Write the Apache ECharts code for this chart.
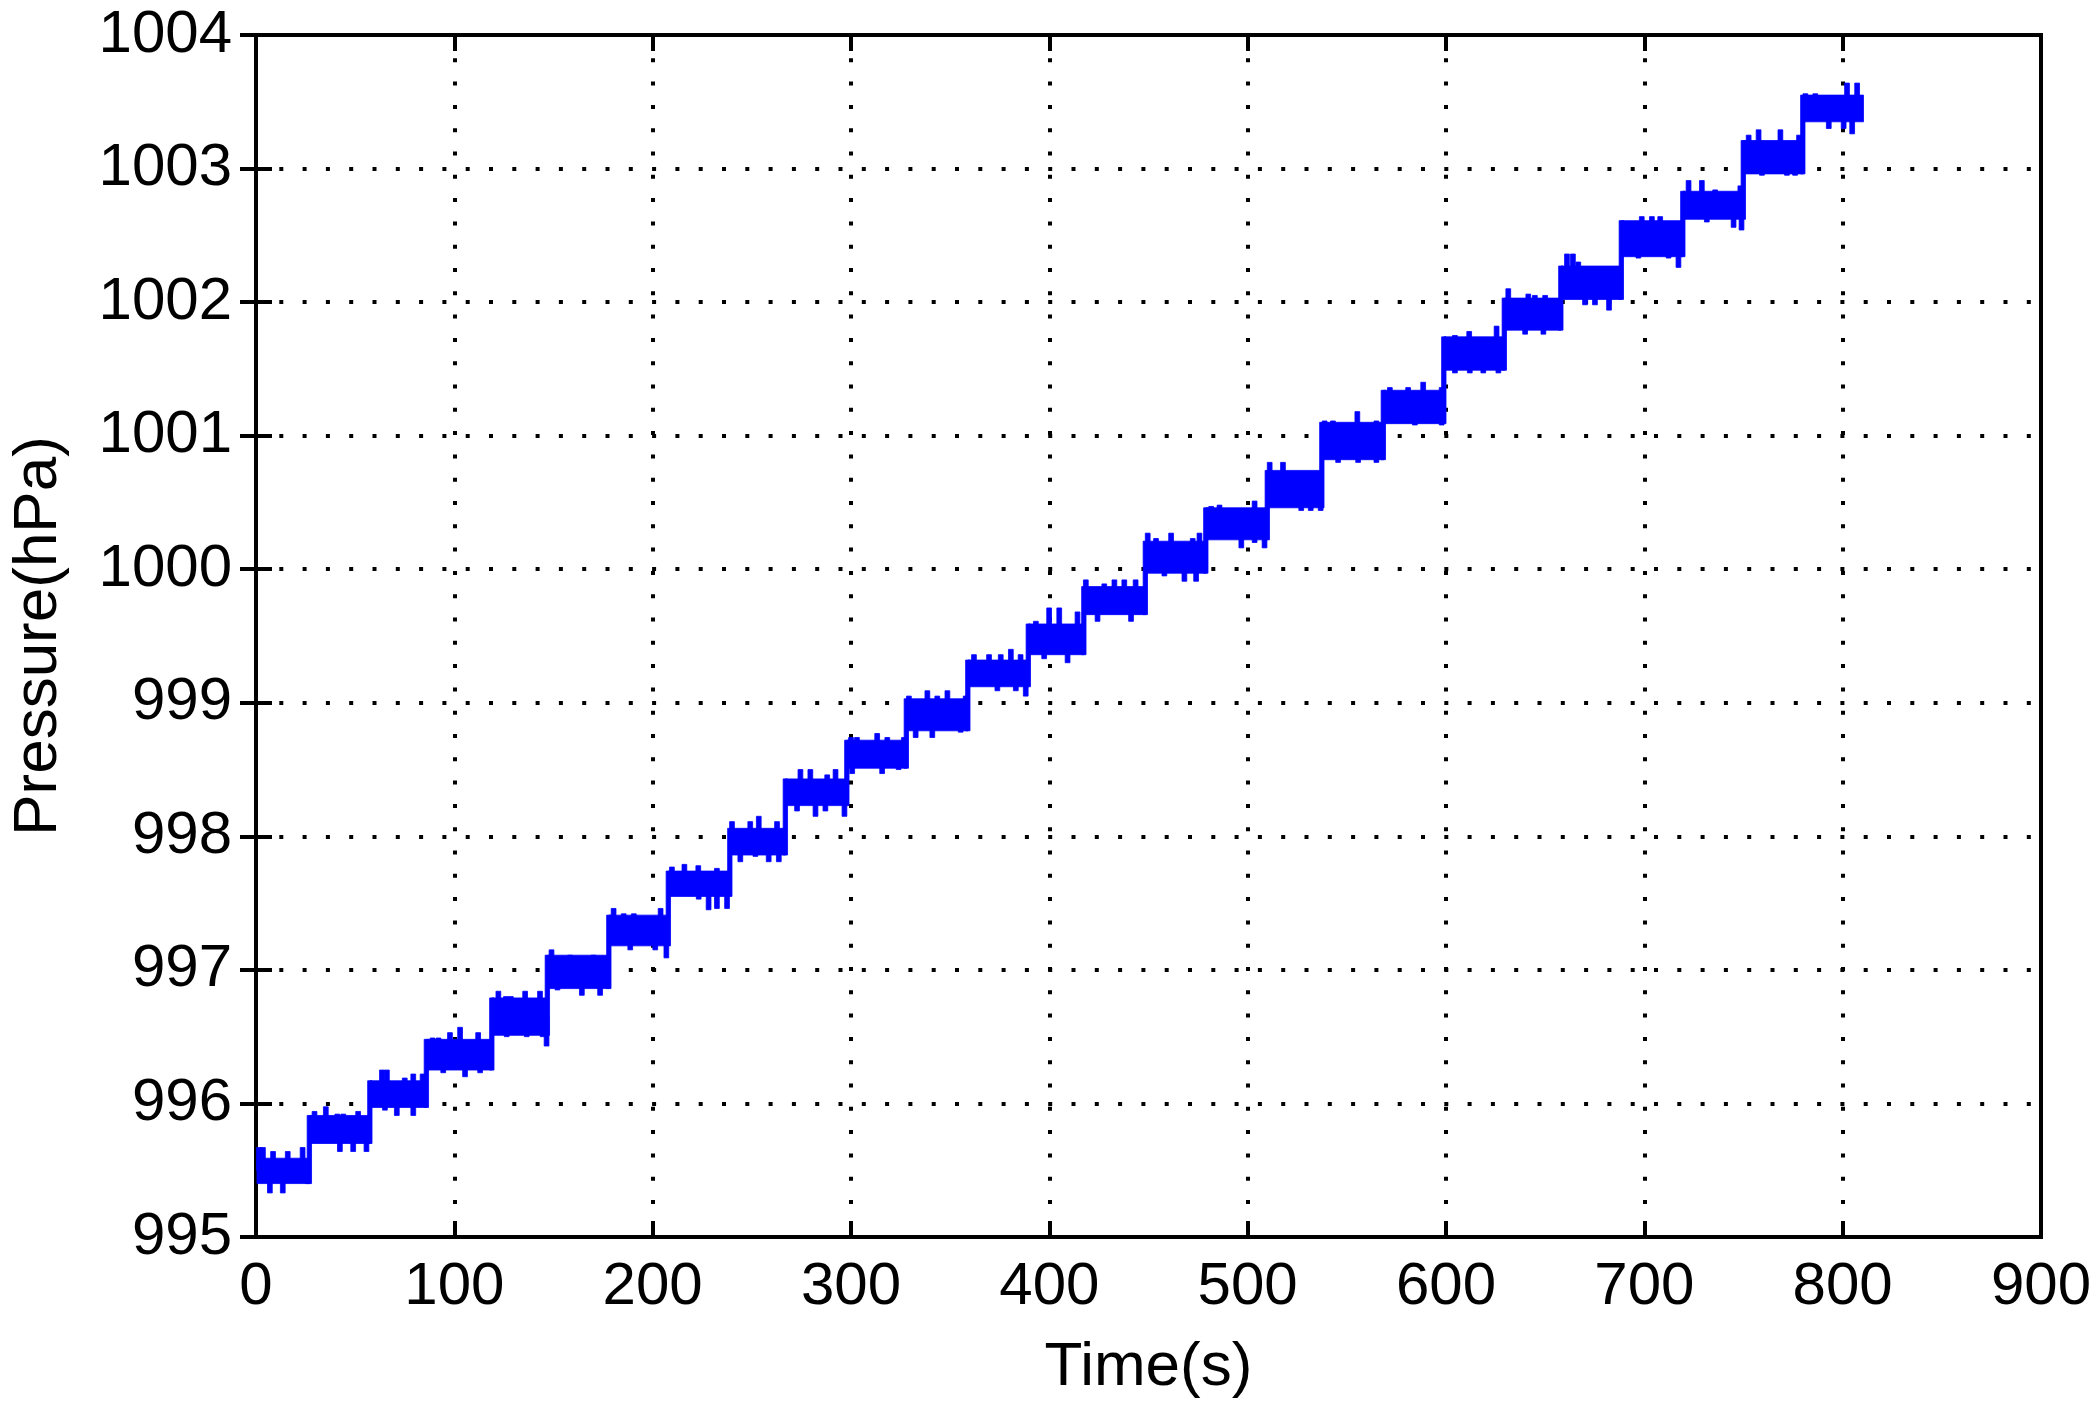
<!DOCTYPE html>
<html>
<head>
<meta charset="utf-8">
<script src="https://cdn.jsdelivr.net/npm/echarts@6/dist/echarts.min.js"></script>
<style>
html,body{margin:0;padding:0;background:#fff;}
#chart{width:2097px;height:1414px;}
</style>
</head>
<body>
<div id="chart"></div>
<script>
// ---- data ----
const xTicks = [0, 100, 200, 300, 400, 500, 600, 700, 800, 900];
const yTicks = [995, 996, 997, 998, 999, 1000, 1001, 1002, 1003, 1004];

// start time (s) of each pressure step, and end of the record
const stepStart = [0.5, 27, 57.5, 86, 119, 147, 178, 208, 239, 267, 298, 328, 359, 389.5, 417.5,
                   448.5, 479, 510, 537.5, 568.5, 599, 629.5, 658, 688.5, 719.5, 750, 780];
const endTime = 810.5;

// upper / lower edge of the dense noise band of each step (hPa)
const coreHigh = [995.59, 995.91, 996.17, 996.48, 996.79, 997.11, 997.41, 997.74, 998.06, 998.43,
                  998.72, 999.03, 999.32, 999.59, 999.87, 1000.21, 1000.46, 1000.74, 1001.10, 1001.34,
                  1001.74, 1002.03, 1002.27, 1002.61, 1002.83, 1003.21, 1003.55];
const coreLow  = [995.40, 995.70, 995.97, 996.25, 996.51, 996.86, 997.18, 997.55, 997.86, 998.23,
                  998.51, 998.79, 999.12, 999.36, 999.66, 999.97, 1000.22, 1000.46, 1000.82, 1001.09,
                  1001.49, 1001.79, 1002.02, 1002.34, 1002.62, 1002.96, 1003.35];

// upward noise spikes [time s, pressure hPa]
const spikeHigh = [
  [1.5,995.67],[3.5,995.67],[8.6,995.64],[16,995.64],[23.5,995.67],
  [29.5,995.94],[35.2,995.975],[41,995.92],[44,995.92],[51.5,995.94],
  [63.5,996.25],[66,996.25],[75,996.19],[79.3,996.22],[84,996.22],
  [89,996.49],[92,996.49],[97.8,996.53],[102.9,996.57],[112,996.53],
  [122.2,996.84],[126,996.80],[128.5,996.80],[135.7,996.84],[143.2,996.84],
  [149,997.15],[158.4,997.11],[170.2,997.11],
  [180.3,997.46],[185.4,997.42],[190.5,997.42],[204,997.46],
  [209.7,997.77],[216,997.79],[223,997.78],[232.4,997.76],
  [240,998.11],[249.2,998.11],[253.5,998.15],[262.7,998.11],
  [267.8,998.39],[274.5,998.50],[279.5,998.50],[288,998.46],[292.2,998.50],
  [300,998.74],[303,998.74],[313.2,998.77],[318.3,998.74],[326.7,998.74],
  [329.2,999.05],[338.5,999.09],[343.5,999.05],[348.6,999.09],[357.8,999.05],
  [362,999.36],[369.6,999.36],[375.5,999.36],[380.6,999.40],[385.5,999.36],
  [393.2,999.61],[399.9,999.71],[405,999.71],[414.2,999.68],
  [418.4,999.92],[427.7,999.89],[432.8,999.92],[437.8,999.92],[443.5,999.92],
  [449.6,1000.27],[453.8,1000.23],[461.4,1000.27],[472.3,1000.23],[475.7,1000.27],
  [481.6,1000.47],[485.8,1000.48],[503.5,1000.51],
  [511.1,1000.80],[517.8,1000.80],
  [538.8,1001.11],[543,1001.11],[555.3,1001.18],[564.9,1001.11],
  [571.7,1001.36],[580.9,1001.36],[588.5,1001.40],[597.8,1001.36],
  [604.5,1001.75],[611.7,1001.78],[625.5,1001.82],
  [631.4,1002.10],[641.5,1002.06],[644.8,1002.05],[650,1002.05],
  [661,1002.36],[664,1002.36],[666.7,1002.30],
  [690.3,1002.60],[698.7,1002.64],[703.8,1002.64],[708,1002.64],
  [722.3,1002.91],[729,1002.91],[735.7,1002.84],[748.4,1002.87],
  [752.6,1003.25],[757.6,1003.29],[768.6,1003.29],[778,1003.25],
  [781.2,1003.56],[786.2,1003.56],[802.2,1003.64],[807.3,1003.64]
];
// downward noise spikes [time s, pressure hPa]
const spikeLow = [
  [7,995.33],[13.5,995.33],[26,995.40],
  [42.3,995.64],[49,995.64],[55.7,995.64],
  [65,995.95],[71,995.91],[79.3,995.91],
  [94.4,996.23],[105.4,996.20],[113,996.23],
  [126.4,996.50],[136.5,996.50],[144.5,996.50],[146.5,996.43],
  [152,996.85],[164.3,996.81],[173.5,996.81],
  [188.7,997.15],[201.3,997.15],[206.9,997.09],
  [223.2,997.53],[228.2,997.45],[232.4,997.46],[237.5,997.46],
  [244.2,997.81],[251.8,997.85],[258.5,997.81],[263.6,997.81],
  [272.8,998.19],[282.1,998.15],[287.1,998.19],[296.7,998.15],
  [300.6,998.47],[315.7,998.47],[324,998.50],
  [332.6,998.74],[341,998.74],[355.3,998.78],
  [373.8,999.09],[383.1,999.09],[388.1,999.05],
  [397.4,999.33],[409.2,999.30],
  [424.3,999.61],[441.2,999.61],
  [458,999.95],[468.1,999.91],[474,999.91],
  [496.8,1000.16],[503.5,1000.20],[508.5,1000.16],
  [527,1000.44],[531.8,1000.44],[536.8,1000.44],
  [545.6,1000.80],[555.7,1000.80],[564.9,1000.80],
  [584.3,1001.08],[597.8,1001.08],
  [604.5,1001.47],[612,1001.47],[618.8,1001.47],[626.4,1001.47],
  [639.9,1001.76],[649.1,1001.76],
  [670.1,1001.98],[675.1,1001.98],[682.2,1001.94],
  [697,1002.33],[712.2,1002.33],[717.2,1002.26],
  [731.5,1002.60],[745,1002.56],[749,1002.54],
  [759.3,1002.95],[771.9,1002.95],[776,1002.95],
  [793,1003.30],[800.5,1003.30],[804.8,1003.26]
];

// ---- build rectangles [t0, t1, low, high] ----
const n = stepStart.length;
const rects = [];
for (let i = 0; i < n; i++) {
  const t1 = i < n - 1 ? stepStart[i + 1] : endTime;
  rects.push([stepStart[i], t1, coreLow[i], coreHigh[i]]);
  if (i > 0) rects.push([stepStart[i] - 1.2, stepStart[i] + 1.0, coreLow[i - 1], coreHigh[i]]);
}
function stepIndex(t) {
  let k = 0;
  for (let i = 0; i < n; i++) if (stepStart[i] <= t) k = i;
  return k;
}
const halfW = 1.2;
spikeHigh.forEach(function (s) {
  const k = stepIndex(s[0]);
  const base = (coreLow[k] + coreHigh[k]) / 2;
  rects.push([s[0] - halfW, s[0] + halfW, base, s[1]]);
});
spikeLow.forEach(function (s) {
  const k = stepIndex(s[0]);
  const base = (coreLow[k] + coreHigh[k]) / 2;
  rects.push([s[0] - halfW, s[0] + halfW, s[1], base]);
});

const FONT = '"Liberation Sans", Arial, Helvetica, sans-serif';
const tickStyle = { show: true, inside: true, length: 16, lineStyle: { color: '#000', width: 4 } };
const dotted = { show: true, lineStyle: { color: '#000', width: 4, type: [4, 19.3] } };
const plain = function (v) { return String(v); };

const chart = echarts.init(document.getElementById('chart'), null, { renderer: 'canvas' });
chart.setOption({
  backgroundColor: '#fff',
  animation: false,
  grid: { left: 256, right: 56, top: 35, bottom: 177, containLabel: false, outerBoundsMode: 'none',
          show: true, borderColor: '#000', borderWidth: 4, backgroundColor: 'transparent' },
  xAxis: [{
    type: 'value', min: xTicks[0], max: xTicks[xTicks.length - 1], interval: 100,
    name: 'Time(s)', nameLocation: 'middle', nameGap: 100,
    nameTextStyle: { fontFamily: FONT, fontSize: 62, color: '#000' },
    axisLine: { show: true, lineStyle: { color: '#000', width: 4 } },
    axisTick: tickStyle,
    axisLabel: { fontFamily: FONT, fontSize: 60, color: '#000', margin: 20, formatter: plain },
    splitLine: dotted
  }, {
    type: 'value', position: 'top', min: xTicks[0], max: xTicks[xTicks.length - 1], interval: 100,
    axisLine: { show: true, lineStyle: { color: '#000', width: 4 } },
    axisTick: tickStyle, axisLabel: { show: false }, splitLine: { show: false }
  }],
  yAxis: [{
    type: 'value', min: yTicks[0], max: yTicks[yTicks.length - 1], interval: 1,
    name: 'Pressure(hPa)', nameLocation: 'middle', nameGap: 186,
    nameTextStyle: { fontFamily: FONT, fontSize: 62, color: '#000' },
    axisLine: { show: true, lineStyle: { color: '#000', width: 4 } },
    axisTick: tickStyle,
    axisLabel: { fontFamily: FONT, fontSize: 60, color: '#000', margin: 24, formatter: plain },
    splitLine: dotted
  }, {
    type: 'value', position: 'right', min: yTicks[0], max: yTicks[yTicks.length - 1], interval: 1,
    axisLine: { show: true, lineStyle: { color: '#000', width: 4 } },
    axisTick: tickStyle, axisLabel: { show: false }, splitLine: { show: false }
  }],
  series: [{
    type: 'custom',
    xAxisIndex: 0, yAxisIndex: 0,
    encode: { x: [0, 1], y: [2, 3] },
    data: rects,
    clip: true,
    renderItem: function (params, api) {
      const p1 = api.coord([api.value(0), api.value(3)]);
      const p2 = api.coord([api.value(1), api.value(2)]);
      return {
        type: 'rect',
        shape: { x: p1[0], y: p1[1], width: p2[0] - p1[0], height: p2[1] - p1[1] },
        style: { fill: '#0000ff', stroke: '#0000ff', lineWidth: 0.8 }
      };
    }
  }]
});
</script>
</body>
</html>
